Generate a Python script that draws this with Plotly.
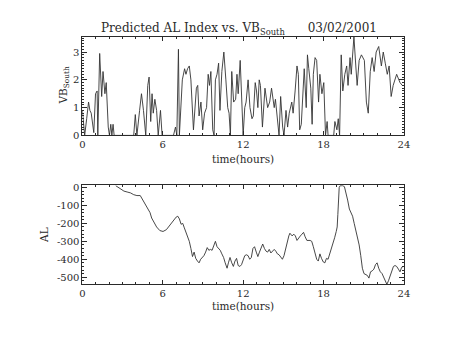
import plotly.graph_objects as go

# ---- data ----
vb_time = [0.00,0.17,0.32,0.46,0.56,0.66,0.85,0.98,1.10,1.15,1.29,1.44,1.54,1.68,1.78,1.93,2.02,2.12,2.20,2.29,2.37,
           3.83,3.95,4.07,4.27,4.41,4.56,4.73,4.88,4.98,5.10,5.20,5.29,5.41,5.54,5.66,5.83,5.95,
           6.80,6.95,7.05,7.17,7.24,7.46,7.63,7.73,7.85,7.98,8.10,8.29,8.51,8.61,8.71,8.85,8.98,9.12,9.27,9.39,9.49,9.59,9.73,9.83,9.93,
           10.05,10.17,10.27,10.41,10.56,10.71,10.85,10.95,11.05,11.15,11.29,11.44,11.54,11.63,11.78,12.00,12.12,12.22,12.37,12.51,12.66,12.76,12.90,
           13.00,13.10,13.20,13.29,13.44,13.54,13.63,13.83,13.98,14.12,14.32,14.41,14.56,14.68,14.80,14.95,15.05,15.20,15.32,15.44,15.63,15.73,15.88,
           16.02,16.12,16.22,16.34,16.46,16.56,16.71,16.80,16.90,17.05,17.15,17.24,17.37,17.49,17.63,17.73,17.88,18.02,18.15,18.27,18.34,
           18.76,18.85,19.00,19.10,19.20,19.32,19.44,19.59,19.73,19.83,19.98,20.07,20.27,20.41,20.51,20.66,20.83,21.05,21.20,21.34,21.49,21.63,21.78,21.93,
           22.12,22.32,22.46,22.61,22.76,22.90,23.05,23.20,23.46,23.71,23.88]
vb_south = [0.9,0.0,0.6,1.2,0.9,0.8,0.1,1.5,1.6,0.0,2.95,1.4,2.3,1.5,1.9,0.3,0.0,0.4,0.0,0.4,0.0,
            0.0,0.75,0.0,0.9,1.5,0.9,0.0,1.8,2.1,0.5,1.5,0.8,1.3,0.9,0.0,0.9,0.0,
            0.0,0.3,0.0,3.1,0.0,2.0,2.4,2.2,2.4,2.5,2.0,0.2,1.7,1.8,0.7,1.2,0.2,0.8,1.0,2.2,1.8,2.3,0.2,0.0,2.0,
            2.2,2.6,0.9,2.3,3.0,2.0,1.0,0.8,0.0,2.3,1.2,1.3,2.2,1.5,2.7,0.0,1.0,1.2,2.0,1.0,0.6,0.7,1.9,
            1.6,1.0,2.0,1.8,0.3,1.3,1.7,1.0,1.2,1.7,1.0,1.3,0.6,0.0,1.4,0.3,0.0,0.9,0.3,0.8,1.2,0.8,1.6,
            2.5,2.2,0.2,0.4,1.4,2.4,1.0,2.9,2.4,1.7,0.4,2.2,2.8,2.7,1.2,2.2,1.5,1.9,0.0,0.5,0.0,
            0.0,0.5,0.2,0.6,0.0,2.9,1.6,2.2,2.5,1.8,2.8,2.2,3.55,2.5,1.8,2.7,2.9,2.7,1.2,0.8,2.3,2.8,2.3,3.0,
            3.2,2.5,3.0,2.6,2.2,2.5,1.4,1.8,2.2,1.9,1.8]

al_time = [2.49,2.85,3.10,3.34,3.59,3.83,4.07,4.32,4.44,4.56,4.80,5.05,5.17,5.29,5.54,5.78,6.02,6.27,6.51,6.76,7.00,7.12,7.24,7.37,7.49,7.61,7.73,7.85,7.98,
           8.10,8.22,8.34,8.46,8.59,8.71,8.83,8.95,9.07,9.20,9.32,9.44,9.56,9.68,9.80,9.93,10.05,10.17,10.29,10.41,10.54,10.66,10.80,10.90,11.02,11.15,11.27,11.39,11.51,11.63,11.76,11.88,
           12.00,12.12,12.24,12.37,12.49,12.61,12.73,12.85,12.98,13.10,13.22,13.34,13.46,13.59,13.71,13.83,13.95,14.07,14.20,14.32,14.44,14.56,14.68,14.80,14.93,
           15.05,15.17,15.29,15.41,15.49,15.66,15.78,15.90,16.02,16.15,16.27,16.39,16.51,16.63,16.76,17.00,17.12,17.24,17.37,17.49,17.61,17.73,17.85,17.98,
           18.10,18.22,18.34,18.46,18.59,18.71,18.83,18.95,19.02,19.07,19.12,19.17,19.24,19.44,19.56,19.68,19.80,19.93,20.05,20.17,20.29,20.41,20.54,20.66,20.78,20.90,
           21.02,21.15,21.27,21.39,21.51,21.63,21.76,21.88,22.00,22.12,22.24,22.37,22.49,22.61,22.73,22.85,22.98,23.10,23.22,23.34,23.46,23.59,23.71,23.83,23.95]
al_index = [10,-10,-20,-25,-30,-40,-45,-45,-60,-80,-110,-140,-170,-185,-220,-240,-245,-235,-210,-190,-165,-160,-175,-205,-200,-225,-250,-270,-300,
            -340,-385,-360,-395,-410,-420,-400,-390,-380,-360,-335,-350,-345,-350,-320,-300,-330,-340,-350,-370,-390,-420,-450,-420,-390,-420,-440,-410,-395,-435,-440,-430,
            -400,-380,-375,-380,-400,-390,-340,-330,-360,-385,-360,-340,-315,-340,-355,-360,-345,-365,-355,-345,-355,-370,-375,-390,-400,
            -380,-340,-300,-270,-255,-270,-260,-270,-295,-285,-270,-260,-250,-275,-295,-295,-300,-330,-360,-400,-410,-370,-395,-415,
            -420,-395,-400,-370,-345,-320,-280,-245,-220,-150,-50,0,10,10,5,-30,-70,-120,-140,-160,-200,-240,-280,-320,-380,-450,
            -480,-485,-490,-505,-470,-465,-455,-430,-420,-450,-470,-480,-500,-530,-540,-520,-490,-470,-440,-435,-440,-455,-470,-445,-440]

x_ticks = [0, 6, 12, 18, 24]
vb_ticks = [0, 1, 2, 3]
al_ticks = [0, -100, -200, -300, -400, -500]
al_labels = ["0", "-100", "-200", "-300", "-400", "-500"]

W, H = 454, 341
FONT = "DejaVu Serif"
TXT = "#2a2a2a"
LINE = "#333333"

def px(x):
    return x / W

def py(y):
    return 1 - y / H

fig = go.Figure()
fig.add_trace(go.Scatter(x=vb_time, y=vb_south, mode="lines",
                         line=dict(color=LINE, width=0.9), xaxis="x", yaxis="y", showlegend=False))
fig.add_trace(go.Scatter(x=al_time, y=al_index, mode="lines",
                         line=dict(color=LINE, width=0.9), xaxis="x2", yaxis="y2", showlegend=False))

xdom = [px(81), px(409)]
common_x = dict(range=[0, 24], tickvals=x_ticks, ticks="inside", ticklen=4, tickcolor=TXT,
                showline=True, linecolor=TXT, linewidth=1, mirror="ticks", showgrid=False, zeroline=False,
                tickfont=dict(family=FONT, size=10, color=TXT),
                minor=dict(dtick=1, ticks="inside", ticklen=2, tickcolor=TXT, showgrid=False))
common_y = dict(ticks="inside", ticklen=5, tickcolor=TXT, showline=True, linecolor=TXT, linewidth=1,
                mirror="ticks", showgrid=False, zeroline=False,
                tickfont=dict(family=FONT, size=10, color=TXT))

def label(text, x, y, size=10.5, angle=0):
    return dict(text=text, x=px(x), y=py(y), xref="paper", yref="paper", showarrow=False,
                xanchor="center", yanchor="middle", textangle=angle,
                font=dict(family=FONT, size=size, color=TXT))

fig.update_layout(
    width=W, height=H, margin=dict(l=0, r=0, t=0, b=0),
    paper_bgcolor="white", plot_bgcolor="white",
    xaxis=dict(domain=xdom, anchor="y", **common_x),
    yaxis=dict(domain=[py(136), py(34.7)], anchor="x", range=[0, 3.55], tickvals=vb_ticks,
               minor=dict(dtick=0.1, ticks="inside", ticklen=2, tickcolor=TXT, showgrid=False), **common_y),
    xaxis2=dict(domain=xdom, anchor="y2", **common_x),
    yaxis2=dict(domain=[py(289), py(187.3)], anchor="x2", range=[-540, 12], tickvals=al_ticks,
                ticktext=al_labels,
                minor=dict(dtick=20, ticks="inside", ticklen=2, tickcolor=TXT, showgrid=False), **common_y),
    annotations=[
        label("Predicted AL Index vs. VB<sub>South</sub>      03/02/2001", 241, 27, size=12),
        label("time(hours)", 245, 160),
        label("time(hours)", 245, 311),
        label("VB<sub>South</sub>", 62, 85, angle=-90),
        label("AL", 42, 238, angle=-90),
    ],
)

fig.write_html("out.html")
